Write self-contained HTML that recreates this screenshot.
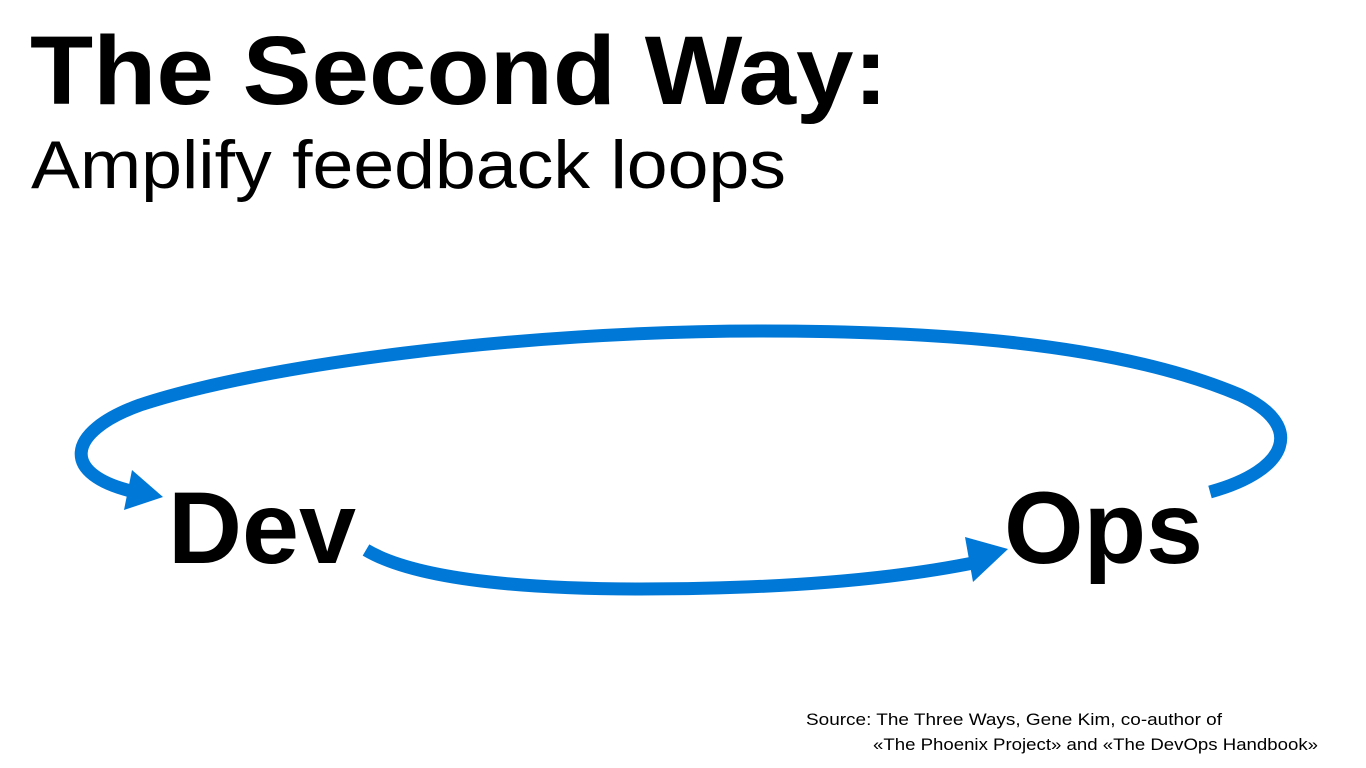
<!DOCTYPE html>
<html><head><meta charset="utf-8"><style>
html,body{margin:0;padding:0;background:#fff;}
svg{display:block;}
text{font-family:"Liberation Sans",sans-serif;fill:#000;}
</style></head><body>
<svg width="1366" height="768" viewBox="0 0 1366 768" xmlns="http://www.w3.org/2000/svg">
<text x="30" y="104" font-size="97" font-weight="bold" textLength="858" lengthAdjust="spacingAndGlyphs">The Second Way:</text>
<text x="31" y="188" font-size="68" textLength="755" lengthAdjust="spacingAndGlyphs">Amplify feedback loops</text>
<text x="168" y="563" font-size="102" font-weight="bold" textLength="188" lengthAdjust="spacingAndGlyphs">Dev</text>
<text x="1004" y="563" font-size="102" font-weight="bold" textLength="199" lengthAdjust="spacingAndGlyphs">Ops</text>
<text x="806" y="725" font-size="17" textLength="416" lengthAdjust="spacingAndGlyphs">Source: The Three Ways, Gene Kim, co-author of</text>
<text x="873" y="750" font-size="17" textLength="445" lengthAdjust="spacingAndGlyphs">«The Phoenix Project» and «The DevOps Handbook»</text>
<g fill="none" stroke="#0078d7" stroke-width="13" stroke-linecap="butt">
<path d="M1210,492 C1290,470 1305,425 1240,395 C1110,340 920,331 760,331 C520,331 260,365 140,405 C65,432 60,475 135,492"/>
<path d="M366,550 C420,582 540,589 640,589 C790,589 900,578 978,562"/>
</g>
<polygon points="163,497 132,470 124,510" fill="#0078d7"/>
<polygon points="1008,549 965,537 973,582" fill="#0078d7"/>
</svg>
</body></html>
